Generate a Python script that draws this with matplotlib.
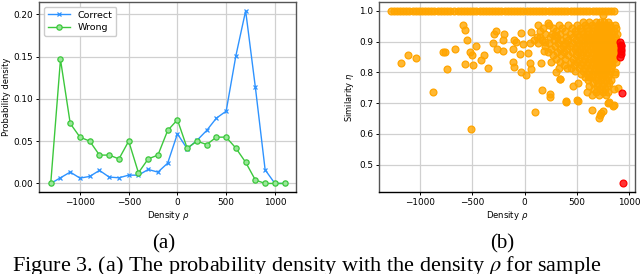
import numpy as np
import matplotlib.pyplot as plt

# (a) probability density vs density rho
rho = [-1300, -1200, -1100, -1000, -900, -800, -700, -600, -500, -400, -300, -200,
       -100, 0, 100, 200, 300, 400, 500, 600, 700, 800, 900, 1000, 1100]
p_correct = [0.0, 0.0067, 0.0134, 0.0063, 0.0083, 0.0154, 0.0075, 0.0067, 0.0098, 0.0098,
             0.0165, 0.0134, 0.024, 0.0587, 0.041, 0.0508, 0.0626, 0.0772, 0.0854, 0.151,
             0.204, 0.1134, 0.0161, 0.0, 0.0]
p_wrong = [0.0, 0.1465, 0.0709, 0.0547, 0.050, 0.0335, 0.0335, 0.029, 0.050, 0.0126,
           0.029, 0.0335, 0.0626, 0.0752, 0.0417, 0.050, 0.046, 0.0547, 0.0547, 0.0417,
           0.025, 0.004, 0.0, 0.0, 0.0]

# (b) similarity eta vs density rho
top_x = [-1280, -1250, -1220, -1190, -1160, -1130, -1100, -1070, -1040, -1010, -980, -950,
         -920, -890, -860, -830, -800, -770, -740, -710, -670, -640, -610, -580, -550,
         -520, -490, -460, -430, -400, -370, -340, -310, -280, -250, -220, -190, -160,
         -130, -100, -70, -40, -10, 20, 50, 80, 110, 140, 170, 200, 230, 260, 290, 320,
         350, 380, 410, 440, 470, 500, 530, 560, 590, 620, 650, 680, 710, 740, 770, 800,
         830, 850]
sparse_x = [-1182, -1112, -1032, -875, -741, -755, -775, -661, -591, -568, -549, -568,
            -520, -504, -495, -508, -460, -415, -390, -348, -297, -294, -275, -265, -207,
            -195, -207, -112, -105, -112, -96, -80, -42, -32, -16, -29, 10, 32, 54, 58,
            48, 64, 99, 128, 144, 153, 169, 182, 191, 223, 239, 287, 303, 335, 399, 405,
            463, 505, 514, 243, 342, 613, 393, 512, 646, 710, 725, 735, 745, 800, 841,
            752, 863, 889, 851, 803]
sparse_y = [0.831, 0.856, 0.848, 0.737, 0.811, 0.867, 0.867, 0.877, 0.953, 0.937, 0.904,
            0.828, 0.867, 0.856, 0.825, 0.616, 0.885, 0.84, 0.855, 0.814, 0.896, 0.924,
            0.935, 0.877, 0.906, 0.924, 0.869, 0.877, 0.906, 0.834, 0.818, 0.899, 0.859,
            0.928, 0.892, 0.80, 0.793, 0.862, 0.829, 0.81, 0.895, 0.932, 0.67, 0.954,
            0.915, 0.83, 0.742, 0.87, 0.90, 0.96, 0.73, 0.92, 0.80, 0.777, 0.706, 0.813,
            0.756, 0.711, 0.764, 0.72, 0.78, 0.786, 0.704, 0.706, 0.679, 0.652, 0.66,
            0.668, 0.675, 0.70, 0.69, 0.987, 0.80, 0.748, 0.694, 0.703]
cluster_rows = [
    (0.965, [560, 620, 680, 720, 760, 800]),
    (0.955, [230, 330, 420, 500, 580, 640, 700, 740, 780, 820, 860]),
    (0.945, [180, 270, 360, 450, 530, 600, 660, 700, 730, 760, 790, 830, 870]),
    (0.935, [150, 300, 390, 480, 550, 610, 650, 690, 720, 750, 780, 810, 850]),
    (0.925, [200, 260, 340, 430, 500, 560, 600, 640, 680, 710, 740, 770, 800, 840, 880]),
    (0.915, [120, 240, 310, 400, 460, 520, 580, 620, 660, 700, 730, 760, 790, 820, 860]),
    (0.905, [90, 170, 280, 350, 420, 490, 550, 600, 640, 680, 710, 740, 770, 800, 830, 870]),
    (0.895, [130, 230, 320, 390, 450, 520, 570, 620, 660, 700, 730, 760, 790, 820, 850, 880]),
    (0.885, [200, 290, 370, 430, 500, 550, 600, 640, 680, 710, 740, 770, 800, 830, 860]),
    (0.875, [250, 340, 410, 480, 530, 580, 630, 670, 700, 730, 760, 790, 820, 850, 880]),
    (0.865, [220, 310, 380, 450, 510, 560, 610, 650, 690, 720, 750, 780, 810, 840, 870]),
    (0.855, [270, 350, 420, 490, 540, 590, 640, 680, 710, 740, 770, 800, 830, 860]),
    (0.845, [300, 390, 460, 520, 580, 630, 670, 700, 730, 760, 790, 820, 850]),
    (0.835, [250, 340, 440, 500, 560, 610, 650, 690, 720, 750, 780, 810, 840, 870]),
    (0.825, [380, 470, 540, 600, 640, 680, 720, 760, 800, 840]),
    (0.815, [330, 440, 520, 580, 630, 670, 710, 750, 790, 830]),
    (0.805, [480, 560, 620, 660, 700, 740, 780, 820]),
    (0.795, [540, 600, 650, 690, 730, 770, 810, 860]),
    (0.785, [580, 640, 700, 750, 800]),
    (0.775, [610, 680, 730, 780, 830]),
    (0.765, [650, 700, 760, 810]),
    (0.755, [620, 690, 740, 790]),
    (0.745, [660, 720, 770, 850]),
    (0.735, [600, 680, 750, 800]),
    (0.725, [640, 710, 780]),
]
red_x = [913, 918, 920, 922, 925, 918, 915, 934, 943]
red_y = [0.90, 0.89, 0.885, 0.875, 0.87, 0.86, 0.85, 0.732, 0.439]

orange_x = list(top_x) + list(sparse_x)
orange_y = [1.0] * len(top_x) + list(sparse_y)
for yy, xs in cluster_rows:
    orange_x += xs
    orange_y += [yy] * len(xs)

fs = 5.8
fig = plt.figure(figsize=(6.4, 2.74), dpi=100)
ax1 = fig.add_axes([0.061, 0.299, 0.402, 0.693])
ax2 = fig.add_axes([0.592, 0.299, 0.400, 0.693])

ax1.plot(rho, p_correct, color='#2e93ff', lw=1.0, marker='x', ms=3.5, mew=0.9, label='Correct')
ax1.plot(rho, p_wrong, color='#3cc83c', lw=1.0, marker='o', ms=3.8, mew=0.9,
         mfc=(0.6, 0.9, 0.6), label='Wrong')
ax1.set_xlabel(r'Density $\rho$', fontsize=fs + 0.3, labelpad=1.5)
ax1.set_ylabel('Probability density', fontsize=fs + 0.2, labelpad=2)
ax1.set_yticks([0.0, 0.05, 0.10, 0.15, 0.20])
ax1.set_xticks([-1000, -500, 0, 500, 1000])
ax1.legend(loc='upper left', fontsize=fs + 1.0, handlelength=2.4, borderpad=0.4,
           labelspacing=0.4, framealpha=1, edgecolor='#cccccc')

ax2.scatter(orange_x, orange_y, s=24, facecolor=(1.0, 0.65, 0.0, 0.8),
            edgecolor='#ffa500', linewidths=0.9, zorder=3)
ax2.scatter(red_x, red_y, s=24, facecolor=(1.0, 0.0, 0.0, 0.8),
            edgecolor='red', linewidths=0.9, zorder=4)
ax2.set_xlabel(r'Density $\rho$', fontsize=fs + 0.3, labelpad=1.5)
ax2.set_ylabel(r'Similarity $\eta$', fontsize=fs + 0.2, labelpad=2)
ax2.set_xticks([-1000, -500, 0, 500, 1000])
ax2.set_yticks([0.5, 0.6, 0.7, 0.8, 0.9, 1.0])

for ax in (ax1, ax2):
    ax.grid(True, color='#d0d0d0', lw=0.9)
    ax.set_axisbelow(True)
    ax.tick_params(labelsize=fs + 0.6, length=2.5, width=0.7, pad=1.5)
    for side in ('top', 'right', 'left'):
        ax.spines[side].set_color('#555555')
        ax.spines[side].set_linewidth(1.0)
    ax.spines['bottom'].set_color('black')
    ax.spines['bottom'].set_linewidth(1.0)

serif = ['Liberation Serif', 'DejaVu Serif']
fig.text(0.255, 0.109, '(a)', ha='center', va='center', fontsize=15, family=serif)
fig.text(0.785, 0.109, '(b)', ha='center', va='center', fontsize=15, family=serif)
fig.text(0.019, 0.011, r'Figure 3. (a) The probability density with the density $\rho$ for sample',
         ha='left', va='baseline', fontsize=16, family=serif, math_fontfamily='stix')

fig.savefig('out.png', dpi=100)
